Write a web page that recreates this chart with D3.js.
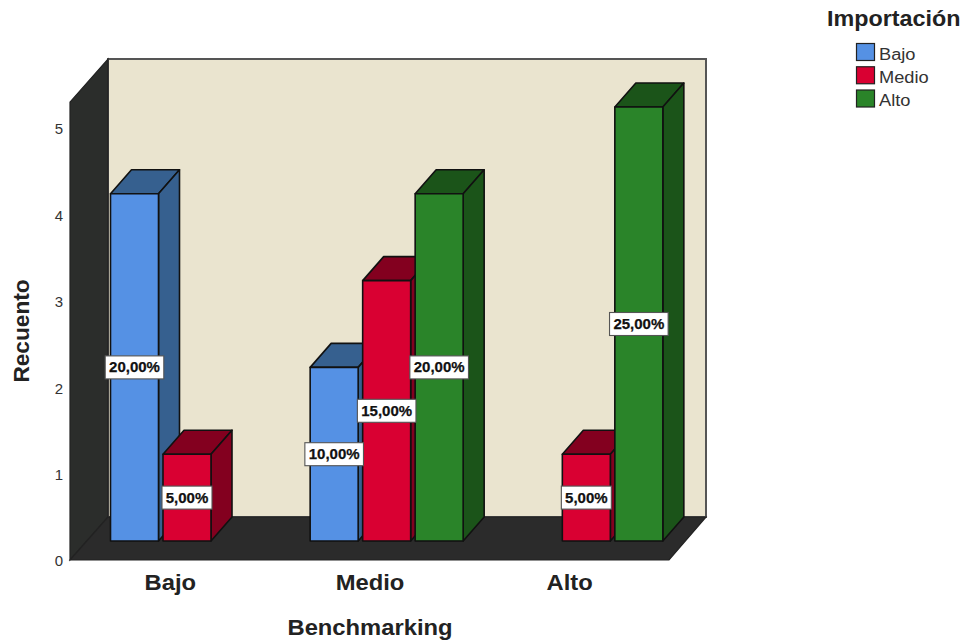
<!DOCTYPE html>
<html>
<head>
<meta charset="utf-8">
<script src="https://cdn.jsdelivr.net/npm/d3@7"></script>
<style>
  html, body { margin: 0; padding: 0; background: #fff; }
  text { font-family: "Liberation Sans", Arial, sans-serif; }
</style>
</head>
<body>
<svg id="chart" width="964" height="641"></svg>
<script>
const categories = ["Bajo", "Medio", "Alto"];
const seriesNames = ["Bajo", "Medio", "Alto"];
const yTicks = [0, 1, 2, 3, 4, 5];
const serieBajo = [4, 2, 0];
const serieMedio = [1, 3, 1];
const serieAlto = [0, 4, 5];
const pctBajo = ["20,00%", "10,00%", ""];
const pctMedio = ["5,00%", "15,00%", "5,00%"];
const pctAlto = ["", "20,00%", "25,00%"];

const seriesValues = [serieBajo, serieMedio, serieAlto];
const seriesPct = [pctBajo, pctMedio, pctAlto];
const frontColor = ["#5591e4", "#d90032", "#2a8429"];
const sideColor = ["#36608f", "#83001f", "#1b5419"];

const svg = d3.select("#chart");

// front plane of the box
const x0 = 70, x1 = 669;
const y = d3.scaleLinear().domain([0, 5]).range([560, 128]);
const yBar = d3.scaleLinear().domain([0, 5]).range([541, 107]);
const yTop = 5.3;
// depth of the box and of the bars inside it
const depthX = 38, depthY = 43;
const barDx = 21, barDy = 24;

const xGroup = d3.scaleBand().domain(categories).range([x0 + 0.5, x1 + 0.5]).padding(0);
const xBar = d3.scaleBand().domain(seriesNames).range([40, 193]).paddingInner(0.0857);

const poly = (pts) => pts.map((p) => p.join(",")).join(" ");

// the original text is a bit wider than Liberation Sans, stretch it
function stretch(sel, k) {
  sel.each(function () {
    const len = this.getComputedTextLength();
    d3.select(this).attr("textLength", len * k).attr("lengthAdjust", "spacingAndGlyphs");
  });
}

// back wall
svg.append("polygon")
  .attr("points", poly([[x0 + depthX, y(yTop) - depthY], [x1 + depthX - 1, y(yTop) - depthY], [x1 + depthX - 1, y(0) - depthY], [x0 + depthX, y(0) - depthY]]))
  .attr("fill", "#eae4cf").attr("stroke", "#555").attr("stroke-width", 2);
// left wall
svg.append("polygon")
  .attr("points", poly([[x0, y(yTop)], [x0 + depthX, y(yTop) - depthY], [x0 + depthX, y(0) - depthY], [x0, y(0)]]))
  .attr("fill", "#2b2d2b").attr("stroke", "#222").attr("stroke-width", 1.2);
// floor
svg.append("polygon")
  .attr("points", poly([[x0, y(0)], [x1, y(0)], [x1 + depthX - 1, y(0) - depthY], [x0 + depthX, y(0) - depthY]]))
  .attr("fill", "#2b2b2b").attr("stroke", "#222").attr("stroke-width", 1.2);

// y axis labels
const yAxis = svg.append("g").attr("transform", "translate(63,1)")
  .call(d3.axisLeft(y).tickValues(yTicks).tickSize(0).tickPadding(0).tickFormat(d3.format("d")));
yAxis.select(".domain").remove();
yAxis.selectAll("text").attr("font-size", 15).attr("fill", "#333")
  .style("font-family", '"Liberation Sans", Arial, sans-serif');

// x axis labels
const xAxis = svg.append("g").attr("transform", "translate(0,574)")
  .call(d3.axisBottom(xGroup).tickSize(0).tickPadding(0));
xAxis.select(".domain").remove();
xAxis.selectAll("text").attr("font-size", 22).attr("font-weight", "bold").attr("fill", "#222")
  .style("font-family", '"Liberation Sans", Arial, sans-serif')
  .call(stretch, 1.08);

// bars, left to right so each one covers the side of the previous
const labels = [];
categories.forEach((cat, c) => {
  seriesNames.forEach((name, s) => {
    const v = seriesValues[s][c];
    if (!v) return;
    const left = xGroup(cat) + xBar(name);
    const right = left + xBar.bandwidth();
    const bottom = yBar(0);
    const top = yBar(v);
    const g = svg.append("g").attr("stroke", "#111").attr("stroke-width", 1.6).attr("stroke-linejoin", "round");
    g.append("polygon")
      .attr("points", poly([[left, top], [left + barDx, top - barDy], [right + barDx, top - barDy], [right, top]]))
      .attr("fill", sideColor[s]);
    g.append("polygon")
      .attr("points", poly([[right, top], [right + barDx, top - barDy], [right + barDx, bottom - barDy], [right, bottom]]))
      .attr("fill", sideColor[s]);
    g.append("rect")
      .attr("x", left).attr("y", top)
      .attr("width", right - left).attr("height", bottom - top)
      .attr("fill", frontColor[s]);
    labels.push({ text: seriesPct[s][c], cx: (left + right) / 2, cy: (top + bottom) / 2 });
  });
});

// percentage labels on top of all bars
labels.forEach((d) => {
  const g = svg.append("g");
  const w = d.text.length * 8.6 + 7;
  g.append("rect")
    .attr("x", d.cx - w / 2).attr("y", d.cy - 11.5).attr("width", w).attr("height", 23)
    .attr("fill", "#fff").attr("stroke", "#555").attr("stroke-width", 1.1);
  g.append("text")
    .attr("x", d.cx).attr("y", d.cy + 1)
    .attr("text-anchor", "middle").attr("dominant-baseline", "middle")
    .attr("font-size", 15).attr("font-weight", "bold").attr("fill", "#111")
    .attr("stroke", "#111").attr("stroke-width", 0.25)
    .text(d.text);
});

// axis titles
svg.append("text").attr("x", 370).attr("y", 635).attr("text-anchor", "middle")
  .attr("font-size", 22).attr("font-weight", "bold").attr("fill", "#222").text("Benchmarking")
  .call(stretch, 1.08);
svg.append("text").attr("transform", "translate(29,331) rotate(-90)").attr("text-anchor", "middle")
  .attr("font-size", 22).attr("font-weight", "bold").attr("fill", "#222").text("Recuento")
  .call(stretch, 1.03);

// legend
svg.append("text").attr("x", 827).attr("y", 26)
  .attr("font-size", 22).attr("font-weight", "bold").attr("fill", "#222").text("Importación")
  .call(stretch, 1.06);
const legendY = d3.scalePoint().domain(seriesNames).range([43.5, 90]);
seriesNames.forEach((name, s) => {
  svg.append("rect")
    .attr("x", 856.5).attr("y", legendY(name)).attr("width", 18).attr("height", 17)
    .attr("fill", frontColor[s]).attr("stroke", "#222").attr("stroke-width", 1.2);
  svg.append("text").attr("x", 879).attr("y", legendY(name) + 16)
    .attr("font-size", 16).attr("fill", "#333").text(name)
    .call(stretch, 1.14);
});
</script>
</body>
</html>
